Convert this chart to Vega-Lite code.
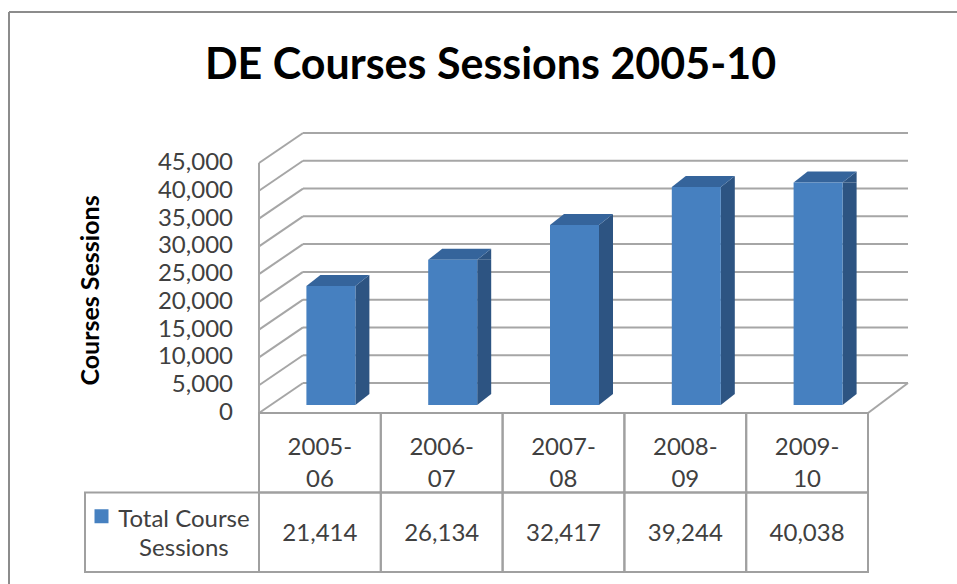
{
  "$schema": "https://vega.github.io/schema/vega-lite/v6.json",
  "width": 605,
  "height": 250,
  "autosize": "none",
  "padding": {"left": 303, "top": 133, "right": 49, "bottom": 201},
  "background": "white",
  "config": {"view": {"stroke": null}, "font": "Lato"},
  "title": {
    "text": "DE Courses Sessions 2005-10",
    "font": "Lato", "fontSize": 43, "fontWeight": "bold", "color": "#000000",
    "anchor": "middle", "frame": "group", "dx": -115, "dy": 165, "offset": 54, "baseline": "alphabetic"
  },
  "datasets": {
    "sessions": [
      {"year": "2005-06", "label": "2005-\n06", "sessions": 21414},
      {"year": "2006-07", "label": "2006-\n07", "sessions": 26134},
      {"year": "2007-08", "label": "2007-\n08", "sessions": 32417},
      {"year": "2008-09", "label": "2008-\n09", "sessions": 39244},
      {"year": "2009-10", "label": "2009-\n10", "sessions": 40038}
    ],
    "ticks": [
      {"v": 0}, {"v": 5000}, {"v": 10000}, {"v": 15000}, {"v": 20000},
      {"v": 25000}, {"v": 30000}, {"v": 35000}, {"v": 40000}, {"v": 45000}
    ]
  },
  "data": {"name": "sessions"},
  "layer": [
    {
      "layer": [
        {
          "data": {"name": "ticks"},
          "mark": {"type": "rule", "color": "#A6A6A6", "strokeWidth": 2, "xOffset": 44, "x2Offset": 40},
          "encoding": {
            "x": {"datum": "2005-06", "bandPosition": 0, "type": "nominal", "axis": null,
              "scale": {"type": "band", "domain": ["2005-06", "2006-07", "2007-08", "2008-09", "2009-10"], "range": [-44, 565], "paddingInner": 0, "paddingOuter": 0}},
            "x2": {"datum": "2009-10", "bandPosition": 1},
            "y": {"field": "v", "type": "quantitative",
              "scale": {"domain": [0, 45000], "nice": false},
              "axis": {
                "title": "Courses Sessions",
                "labels": false, "grid": false, "ticks": false, "tickSize": 0, "domain": false,
                "titleFont": "Lato", "titleFontSize": 25, "titleFontWeight": "bold", "titleColor": "#000000",
                "titleAngle": -90, "titleX": -213, "titleY": 157, "titleAlign": "center", "titleBaseline": "middle"
              }}
          }
        },
        {
          "data": {"name": "ticks"},
          "mark": {"type": "rule", "color": "#A6A6A6", "strokeWidth": 2, "yOffset": 30, "x2Offset": 44},
          "encoding": {
            "x": {"datum": "2005-06", "bandPosition": 0, "type": "nominal", "axis": null,
              "scale": {"type": "band", "domain": ["2005-06", "2006-07", "2007-08", "2008-09", "2009-10"], "range": [-44, 565], "paddingInner": 0, "paddingOuter": 0}},
            "x2": {"datum": "2005-06", "bandPosition": 0},
            "y": {"field": "v", "type": "quantitative", "scale": {"domain": [0, 45000], "nice": false}},
            "y2": {"field": "v"}
          }
        },
        {
          "data": {"name": "ticks"},
          "mark": {"type": "text", "font": "Lato", "fontSize": 24, "color": "#404040", "align": "right", "baseline": "middle", "xOffset": -26, "yOffset": 30},
          "encoding": {
            "x": {"datum": "2005-06", "bandPosition": 0, "type": "nominal", "axis": null,
              "scale": {"type": "band", "domain": ["2005-06", "2006-07", "2007-08", "2008-09", "2009-10"], "range": [-44, 565], "paddingInner": 0, "paddingOuter": 0}},
            "y": {"field": "v", "type": "quantitative", "scale": {"domain": [0, 45000], "nice": false}},
            "text": {"field": "v", "type": "quantitative", "format": ","}
          }
        },
        {
          "data": {"values": [{}]},
          "mark": {"type": "rule", "color": "#A6A6A6", "strokeWidth": 2, "yOffset": 30, "y2Offset": 30},
          "encoding": {
            "x": {"datum": "2005-06", "bandPosition": 0, "type": "nominal", "axis": null,
              "scale": {"type": "band", "domain": ["2005-06", "2006-07", "2007-08", "2008-09", "2009-10"], "range": [-44, 565], "paddingInner": 0, "paddingOuter": 0}},
            "y": {"datum": 45000, "type": "quantitative", "scale": {"domain": [0, 45000], "nice": false}},
            "y2": {"datum": 0}
          }
        },
        {
          "data": {"values": [{}]},
          "mark": {"type": "rule", "color": "#A6A6A6", "strokeWidth": 2, "yOffset": 30, "x2Offset": 40},
          "encoding": {
            "x": {"datum": "2009-10", "bandPosition": 1, "type": "nominal", "axis": null,
              "scale": {"type": "band", "domain": ["2005-06", "2006-07", "2007-08", "2008-09", "2009-10"], "range": [-44, 565], "paddingInner": 0, "paddingOuter": 0}},
            "x2": {"datum": "2009-10", "bandPosition": 1},
            "y": {"datum": 0, "type": "quantitative", "scale": {"domain": [0, 45000], "nice": false}},
            "y2": {"datum": 0}
          }
        },
        {
          "data": {"values": [{}]},
          "mark": {"type": "rule", "color": "#8C8C8C", "strokeWidth": 2, "xOffset": -250, "yOffset": -121, "y2Offset": 201},
          "encoding": {
            "x": {"datum": "2005-06", "bandPosition": 0, "type": "nominal", "axis": null,
              "scale": {"type": "band", "domain": ["2005-06", "2006-07", "2007-08", "2008-09", "2009-10"], "range": [-44, 565], "paddingInner": 0, "paddingOuter": 0}},
            "y": {"datum": 45000, "type": "quantitative", "scale": {"domain": [0, 45000], "nice": false}},
            "y2": {"datum": 0}
          }
        },
        {
          "data": {"values": [{}]},
          "mark": {"type": "rule", "color": "#8C8C8C", "strokeWidth": 2, "xOffset": -250, "x2Offset": 89, "yOffset": -121},
          "encoding": {
            "x": {"datum": "2005-06", "bandPosition": 0, "type": "nominal", "axis": null,
              "scale": {"type": "band", "domain": ["2005-06", "2006-07", "2007-08", "2008-09", "2009-10"], "range": [-44, 565], "paddingInner": 0, "paddingOuter": 0}},
            "x2": {"datum": "2009-10", "bandPosition": 1},
            "y": {"datum": 45000, "type": "quantitative", "scale": {"domain": [0, 45000], "nice": false}}
          }
        },
        {
          "mark": {"type": "bar", "color": "#2D5482", "width": 14, "xOffset": 42.5, "yOffset": 22, "y2Offset": 11},
          "encoding": {
            "x": {"field": "year", "type": "nominal", "axis": null,
              "scale": {"type": "band", "domain": ["2005-06", "2006-07", "2007-08", "2008-09", "2009-10"], "range": [-44, 565], "paddingInner": 0, "paddingOuter": 0}},
            "y": {"field": "sessions", "type": "quantitative", "scale": {"domain": [0, 45000], "nice": false}},
            "y2": {"datum": 0}
          }
        },
        {
          "mark": {"type": "point", "shape": "M24.5,0L24.5,-11L38.5,-11Z", "size": 4, "filled": true, "opacity": 1, "color": "#2D5482", "strokeWidth": 0, "xOffset": 11, "yOffset": 22},
          "encoding": {
            "x": {"field": "year", "type": "nominal", "bandPosition": 0.5, "axis": null,
              "scale": {"type": "band", "domain": ["2005-06", "2006-07", "2007-08", "2008-09", "2009-10"], "range": [-44, 565], "paddingInner": 0, "paddingOuter": 0}},
            "y": {"datum": 0, "type": "quantitative", "scale": {"domain": [0, 45000], "nice": false}}
          }
        },
        {
          "mark": {"type": "point", "shape": "M24.5,0L38.5,-11L38.5,0Z", "size": 4, "filled": true, "opacity": 1, "color": "#2D5482", "strokeWidth": 0, "xOffset": 11, "yOffset": 22},
          "encoding": {
            "x": {"field": "year", "type": "nominal", "bandPosition": 0.5, "axis": null,
              "scale": {"type": "band", "domain": ["2005-06", "2006-07", "2007-08", "2008-09", "2009-10"], "range": [-44, 565], "paddingInner": 0, "paddingOuter": 0}},
            "y": {"field": "sessions", "type": "quantitative", "scale": {"domain": [0, 45000], "nice": false}}
          }
        },
        {
          "mark": {"type": "point", "shape": "M-24.5,0L24.5,0L38.5,-11L-10.5,-11Z", "size": 4, "filled": true, "opacity": 1, "color": "#35649B", "strokeWidth": 0, "xOffset": 11, "yOffset": 22},
          "encoding": {
            "x": {"field": "year", "type": "nominal", "bandPosition": 0.5, "axis": null,
              "scale": {"type": "band", "domain": ["2005-06", "2006-07", "2007-08", "2008-09", "2009-10"], "range": [-44, 565], "paddingInner": 0, "paddingOuter": 0}},
            "y": {"field": "sessions", "type": "quantitative", "scale": {"domain": [0, 45000], "nice": false}}
          }
        },
        {
          "mark": {"type": "bar", "color": "#4680C0", "width": 49, "xOffset": 11, "yOffset": 22, "y2Offset": 22},
          "encoding": {
            "x": {"field": "year", "type": "nominal", "axis": null,
              "scale": {"type": "band", "domain": ["2005-06", "2006-07", "2007-08", "2008-09", "2009-10"], "range": [-44, 565], "paddingInner": 0, "paddingOuter": 0}},
            "y": {"field": "sessions", "type": "quantitative", "scale": {"domain": [0, 45000], "nice": false}},
            "y2": {"datum": 0}
          }
        }
      ]
    },
    {
      "layer": [
        {
          "mark": {"type": "rect", "filled": false, "stroke": "#A0A0A0", "strokeWidth": 2},
          "encoding": {
            "x": {"field": "year", "type": "nominal", "axis": null,
              "scale": {"type": "band", "domain": ["2005-06", "2006-07", "2007-08", "2008-09", "2009-10"], "range": [-44, 565], "paddingInner": 0, "paddingOuter": 0}},
            "y": {"datum": "header", "type": "nominal", "axis": null,
              "scale": {"type": "band", "domain": ["header", "values"], "range": [280, 439], "paddingInner": 0, "paddingOuter": 0}}
          }
        },
        {
          "mark": {"type": "rect", "filled": false, "stroke": "#A0A0A0", "strokeWidth": 2},
          "encoding": {
            "x": {"field": "year", "type": "nominal", "axis": null,
              "scale": {"type": "band", "domain": ["2005-06", "2006-07", "2007-08", "2008-09", "2009-10"], "range": [-44, 565], "paddingInner": 0, "paddingOuter": 0}},
            "y": {"datum": "values", "type": "nominal", "axis": null,
              "scale": {"type": "band", "domain": ["header", "values"], "range": [280, 439], "paddingInner": 0, "paddingOuter": 0}}
          }
        },
        {
          "data": {"values": [{}]},
          "mark": {"type": "rect", "filled": false, "stroke": "#A0A0A0", "strokeWidth": 2, "xOffset": -174},
          "encoding": {
            "x": {"datum": "2005-06", "bandPosition": 0, "type": "nominal", "axis": null,
              "scale": {"type": "band", "domain": ["2005-06", "2006-07", "2007-08", "2008-09", "2009-10"], "range": [-44, 565], "paddingInner": 0, "paddingOuter": 0}},
            "x2": {"datum": "2005-06", "bandPosition": 0},
            "y": {"datum": "values", "type": "nominal", "axis": null,
              "scale": {"type": "band", "domain": ["header", "values"], "range": [280, 439], "paddingInner": 0, "paddingOuter": 0}}
          }
        },
        {
          "mark": {"type": "text", "font": "Lato", "fontSize": 24, "color": "#404040", "lineBreak": "\n", "lineHeight": 32, "baseline": "middle", "align": "center", "yOffset": -5},
          "encoding": {
            "x": {"field": "year", "type": "nominal", "axis": null,
              "scale": {"type": "band", "domain": ["2005-06", "2006-07", "2007-08", "2008-09", "2009-10"], "range": [-44, 565], "paddingInner": 0, "paddingOuter": 0}},
            "y": {"datum": "header", "type": "nominal", "axis": null,
              "scale": {"type": "band", "domain": ["header", "values"], "range": [280, 439], "paddingInner": 0, "paddingOuter": 0}},
            "text": {"field": "label", "type": "nominal"}
          }
        },
        {
          "mark": {"type": "text", "font": "Lato", "fontSize": 24, "color": "#404040", "baseline": "middle", "align": "center", "yOffset": 2},
          "encoding": {
            "x": {"field": "year", "type": "nominal", "axis": null,
              "scale": {"type": "band", "domain": ["2005-06", "2006-07", "2007-08", "2008-09", "2009-10"], "range": [-44, 565], "paddingInner": 0, "paddingOuter": 0}},
            "y": {"datum": "values", "type": "nominal", "axis": null,
              "scale": {"type": "band", "domain": ["header", "values"], "range": [280, 439], "paddingInner": 0, "paddingOuter": 0}},
            "text": {"field": "sessions", "type": "quantitative", "format": ","}
          }
        },
        {
          "data": {"values": [{}]},
          "mark": {"type": "point", "shape": "square", "size": 196, "filled": true, "opacity": 1, "color": "#4680C0", "strokeWidth": 0, "xOffset": -218.4, "yOffset": -16},
          "encoding": {
            "x": {"datum": "2005-06", "bandPosition": 0.5, "type": "nominal", "axis": null,
              "scale": {"type": "band", "domain": ["2005-06", "2006-07", "2007-08", "2008-09", "2009-10"], "range": [-44, 565], "paddingInner": 0, "paddingOuter": 0}},
            "y": {"datum": "values", "type": "nominal", "axis": null,
              "scale": {"type": "band", "domain": ["header", "values"], "range": [280, 439], "paddingInner": 0, "paddingOuter": 0}}
          }
        },
        {
          "data": {"values": [{}]},
          "mark": {"type": "text", "font": "Lato", "fontSize": 24, "color": "#404040", "lineBreak": "\n", "lineHeight": 29, "baseline": "middle", "align": "center", "xOffset": -136, "yOffset": -12},
          "encoding": {
            "x": {"datum": "2005-06", "bandPosition": 0.5, "type": "nominal", "axis": null,
              "scale": {"type": "band", "domain": ["2005-06", "2006-07", "2007-08", "2008-09", "2009-10"], "range": [-44, 565], "paddingInner": 0, "paddingOuter": 0}},
            "y": {"datum": "values", "type": "nominal", "axis": null,
              "scale": {"type": "band", "domain": ["header", "values"], "range": [280, 439], "paddingInner": 0, "paddingOuter": 0}},
            "text": {"value": "Total Course\nSessions"}
          }
        }
      ]
    }
  ],
  "resolve": {"scale": {"y": "independent"}}
}
